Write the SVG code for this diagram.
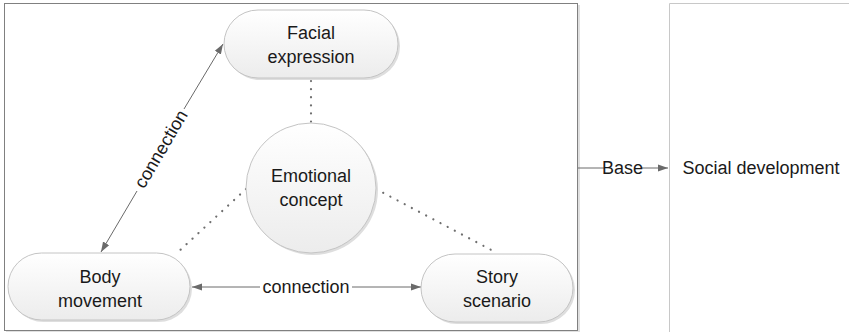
<svg xmlns="http://www.w3.org/2000/svg" width="849" height="332" viewBox="0 0 849 332">
<defs>
<linearGradient id="g" x1="0" y1="0" x2="0" y2="1">
<stop offset="0" stop-color="#ffffff"/>
<stop offset="1" stop-color="#ececec"/>
</linearGradient>
<marker id="ah" viewBox="0 0 10 10" refX="10" refY="5" markerWidth="10" markerHeight="10" markerUnits="userSpaceOnUse" orient="auto-start-reverse">
<path d="M0,1.5 L10,5 L0,8.5 z" fill="#6a6a6a"/>
</marker>
</defs>
<style>
.node{fill:url(#g);stroke:#c4c4c4;stroke-width:1}
.shadow{fill:#dedede;stroke:none}
.t{font-family:"Liberation Sans",Arial,sans-serif;font-size:18px;fill:#1a1a1a;text-anchor:middle}
.ln{stroke:#6a6a6a;stroke-width:1;fill:none}
.dot{stroke:#6f6f6f;stroke-width:2.2;stroke-dasharray:0.1 8;stroke-linecap:round;fill:none}
</style>
<rect width="849" height="332" fill="#ffffff"/>
<g id="frame">
<rect x="6" y="5" width="574" height="327" fill="#e0e0e0"/>
<rect x="4.5" y="3.5" width="573" height="327" fill="#ffffff" stroke="#808080" stroke-width="1"/>
</g>
<g id="social-panel">
<path d="M669.5,332 V3.5 H849" fill="none" stroke="#c8c8c8" stroke-width="1"/>
<text class="t" x="761" y="174">Social development</text>
</g>
<g id="connectors">
<line class="dot" x1="311" y1="81" x2="311" y2="122"/>
<line class="dot" x1="246" y1="189" x2="177" y2="253"/>
<line class="dot" x1="376" y1="189" x2="497" y2="253"/>
<line class="ln" x1="192" y1="287" x2="260" y2="287" marker-start="url(#ah)"/>
<line class="ln" x1="352" y1="287" x2="421" y2="287" marker-end="url(#ah)"/>
<text class="t" x="306" y="293">connection</text>
<line class="ln" x1="101" y1="252" x2="137" y2="191" marker-start="url(#ah)"/>
<line class="ln" x1="184" y1="109" x2="223" y2="44" marker-end="url(#ah)"/>
<text class="t" transform="translate(161,149) rotate(-59.5)" y="6">connection</text>
<line class="ln" x1="578" y1="168" x2="604" y2="168"/>
<line class="ln" x1="641" y1="168" x2="668" y2="168" marker-end="url(#ah)"/>
<text class="t" x="622.5" y="174">Base</text>
</g>
<g id="facial-expression">
<rect class="shadow" x="226" y="12" width="174" height="68" rx="34"/>
<rect class="node" x="224" y="10" width="174" height="68" rx="34"/>
<text class="t" x="311" y="39">Facial</text>
<text class="t" x="311" y="63">expression</text>
</g>
<g id="emotional-concept">
<circle class="shadow" cx="313" cy="190" r="65"/>
<circle class="node" cx="311" cy="188" r="65"/>
<text class="t" x="311" y="182">Emotional</text>
<text class="t" x="311" y="206">concept</text>
</g>
<g id="body-movement">
<rect class="shadow" x="10" y="255" width="182" height="67" rx="33.5"/>
<rect class="node" x="8" y="253" width="182" height="67" rx="33.5"/>
<text class="t" x="100" y="283">Body</text>
<text class="t" x="100" y="307">movement</text>
</g>
<g id="story-scenario">
<rect class="shadow" x="423" y="256" width="152" height="68" rx="34"/>
<rect class="node" x="421" y="254" width="152" height="68" rx="34"/>
<text class="t" x="497" y="283">Story</text>
<text class="t" x="497" y="307">scenario</text>
</g>
</svg>
